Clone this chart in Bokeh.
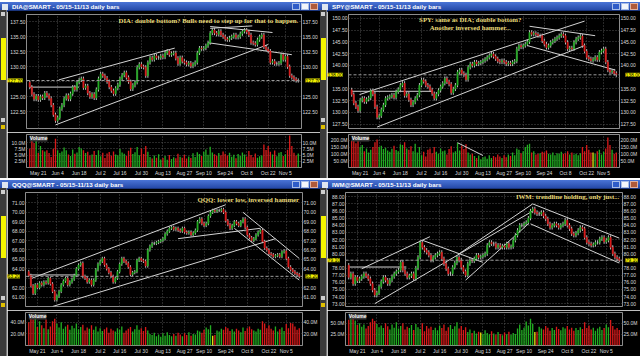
import numpy as np
from bokeh.plotting import figure
from bokeh.models import (FixedTicker, Span, Label, LinearAxis, Range1d, Div,
                          Grid, ColumnDataSource)
from bokeh.layouts import row, column
from bokeh.embed import file_html
from bokeh.resources import INLINE

# ---------------- data ----------------
DATE_TICKS = [4, 13, 23, 33, 42, 52, 62, 72, 81, 91, 101, 111, 119]
DATE_LABELS = ["May 21", "Jun 4", "Jun 18", "Jul 2", "Jul 16", "Jul 30", "Aug 13",
               "Aug 27", "Sep 10", "Sep 24", "Oct 8", "Oct 22", "Nov 5"]

DIA_OPEN0 = 127.4
DIA_WICK = 0.35
DIA_CLOSE = [126.6, 125.4, 124.6, 125.1, 124.5, 125.0, 124.8, 125.6, 125.2, 124.7,
             123.6, 122.0, 121.0, 121.5, 123.0, 123.6, 124.7, 125.2, 124.6, 125.5,
             126.6, 126.2, 127.4, 127.8, 128.0, 126.5, 126.8, 125.6, 125.0, 125.4,
             124.8, 126.2, 128.0, 128.8, 128.5, 128.1, 127.5, 126.6, 126.0, 125.5,
             126.4, 127.0, 128.0, 128.6, 129.0, 128.2, 127.5, 126.3, 126.9, 127.4,
             129.9, 130.4, 130.0, 129.9, 128.5, 130.7, 131.5, 131.2, 131.8, 131.5,
             131.5, 131.8, 131.6, 132.3, 132.6, 132.0, 132.2, 132.3, 131.4, 130.5,
             131.5, 130.9, 130.7, 130.4, 130.6, 130.1, 130.4, 130.7, 132.3, 133.1,
             133.0, 133.1, 133.5, 134.0, 135.6, 136.1, 135.6, 135.4, 135.9, 135.3,
             135.0, 134.6, 134.5, 134.8, 135.0, 135.3, 134.9, 135.0, 135.5, 135.9,
             136.1, 135.8, 135.3, 134.0, 133.9, 133.7, 134.5, 135.0, 135.3, 133.3,
             132.9, 132.6, 130.7, 130.9, 130.5, 130.5, 130.6, 132.0, 131.2, 131.7,
             130.0, 128.5, 128.2, 127.9, 127.7, 127.7]
DIA_VOL = [7.5, 10.9, 9.8, 11.5, 5.8, 8.6, 6.9, 6.4, 6.9, 5.8,
           4.2, 7.5, 11.5, 6.9, 5.8, 6.4, 8.0, 6.9, 5.2, 4.6,
           7.2, 5.5, 6.0, 8.2, 7.6, 6.9, 5.8, 6.3, 4.8, 5.2,
           6.6, 5.0, 6.9, 4.5, 5.9, 3.8, 5.6, 6.2, 4.7, 6.4,
           5.2, 4.9, 7.4, 6.0, 5.5, 4.6, 6.7, 7.9, 5.4, 6.1,
           8.2, 4.9, 7.6, 5.4, 8.6, 6.3, 4.2, 3.6, 4.8, 3.9,
           5.3, 3.2, 3.8, 4.6, 3.1, 5.0, 3.4, 4.1, 3.7, 5.5,
           4.3, 3.9, 5.1, 3.6, 4.4, 3.8, 5.7, 4.2, 6.1, 5.4,
           4.6, 6.3, 7.2, 5.1, 8.3, 6.0, 5.3, 4.7, 5.8, 4.9,
           6.4, 5.5, 4.8, 5.9, 4.3, 5.1, 3.7, 5.4, 4.6, 6.0,
           5.2, 4.4, 6.6, 5.0, 4.1, 5.6, 3.9, 4.5, 4.8, 9.2,
           7.0, 8.6, 6.3, 5.2, 6.8, 4.5, 5.9, 6.2, 4.6, 5.3,
           7.1, 12.8, 8.6, 5.9, 4.8, 5.6]
DIA_TICKS = [122.5, 125.0, 127.5, 130.0, 132.5, 135.0, 137.5]
DIA_VTICKS = [2.5, 5.0, 7.5, 10.0]
DIA_LINES = [(0, 126.6, 23, 126.6), (13.5, 127.8, 67.5, 133.1), (12, 120.3, 111, 133.7),
             (84, 136.4, 103.6, 136.8), (84, 136.7, 113, 135.7), (83, 134.0, 122, 132.0)]
DIA_HILITE = []
DIA_NOTE = ["DIA: double bottom? Bulls need to step up for that to happen."]

SPY_OPEN0 = 134.8
SPY_WICK = 0.45
SPY_CLOSE = [133.8, 132.0, 131.2, 130.4, 132.6, 133.0, 132.3, 132.8, 133.1, 134.6,
             133.9, 131.2, 129.0, 129.3, 130.6, 131.6, 133.0, 133.2, 133.4, 133.7,
             133.2, 134.4, 134.9, 135.8, 136.2, 133.6, 133.9, 132.7, 131.6, 132.2,
             133.0, 133.7, 135.8, 136.9, 136.6, 135.8, 135.5, 134.8, 134.0, 133.0,
             133.9, 134.7, 135.5, 136.2, 137.2, 136.5, 136.0, 134.2, 135.0, 135.8,
             138.6, 139.0, 138.3, 138.0, 137.0, 139.6, 140.3, 140.0, 140.7, 140.3,
             140.5, 140.7, 141.0, 141.3, 141.7, 142.1, 142.4, 141.9, 141.4, 140.9,
             140.7, 141.0, 140.7, 140.3, 140.5, 140.3, 140.7, 140.9, 143.5, 144.2,
             143.9, 144.2, 144.5, 145.0, 147.0, 146.6, 146.8, 146.6, 146.3, 146.3,
             145.2, 144.5, 143.8, 144.2, 144.9, 145.2, 145.6, 145.9, 146.3, 146.6,
             146.3, 144.9, 143.5, 143.7, 143.5, 144.9, 145.6, 145.9, 146.2, 144.2,
             143.0, 141.7, 141.4, 141.0, 141.3, 141.7, 141.2, 142.8, 143.1, 143.5,
             140.7, 139.0, 138.6, 138.8, 138.3, 138.0]
SPY_VOL = [195, 210, 178, 205, 150, 165, 120, 140, 110, 130,
           150, 185, 205, 150, 160, 135, 145, 125, 115, 138,
           160, 128, 120, 170, 165, 185, 140, 130, 155, 120,
           175, 110, 150, 90, 115, 80, 130, 140, 105, 150,
           115, 100, 140, 120, 125, 95, 135, 155, 110, 120,
           182, 125, 160, 135, 170, 110, 95, 100, 85, 70,
           88, 60, 75, 80, 65, 90, 70, 85, 75, 95,
           80, 70, 90, 75, 95, 85, 110, 90, 140, 130,
           105, 120, 150, 167, 175, 110, 120, 95, 100, 105,
           115, 110, 125, 100, 95, 110, 90, 105, 100, 115,
           100, 105, 120, 95, 110, 95, 100, 90, 105, 150,
           120, 165, 130, 110, 110, 100, 120, 130, 95, 115,
           140, 220, 165, 130, 100, 110]
SPY_TICKS = [127.5, 130.0, 132.5, 135.0, 137.5, 140.0, 142.5, 145.0, 147.5, 150.0]
SPY_VTICKS = [50, 100, 150, 200]
SPY_LINES = [(0, 134.5, 38, 134.5), (3.7, 133.8, 110, 149.4), (12, 126.9, 110, 144.2),
             (84, 148.3, 115, 146.3), (83, 144.2, 124.6, 139.0)]
SPY_VLINES = [(50, 182, 62, 88)]
SPY_HILITE = [114]
SPY_NOTE = ["SPY: same as DIA; double bottom?", "Another inversed hammer..."]

QQQ_OPEN0 = 63.7
QQQ_WICK = 0.18
QQQ_CLOSE = [63.3, 62.2, 61.4, 62.3, 62.0, 62.5, 62.3, 62.6, 62.5, 63.0,
             62.4, 61.6, 60.7, 61.1, 61.6, 62.3, 62.7, 63.0, 62.3, 62.6,
             62.9, 63.3, 64.0, 64.4, 64.6, 63.2, 63.0, 62.6, 62.8, 62.3,
             62.8, 63.9, 64.5, 64.8, 65.1, 64.4, 64.0, 63.6, 63.2, 62.6,
             63.0, 63.7, 64.5, 65.1, 64.8, 64.6, 64.2, 63.4, 63.6, 63.7,
             64.9, 65.1, 64.9, 64.8, 64.3, 66.0, 66.4, 66.7, 66.7, 66.8,
             66.9, 67.0, 67.2, 67.7, 68.0, 68.3, 68.4, 68.2, 68.3, 68.1,
             68.0, 68.3, 67.9, 67.8, 67.9, 67.6, 67.8, 68.1, 69.0, 69.3,
             68.8, 68.6, 68.8, 69.6, 70.0, 70.2, 70.1, 70.2, 70.2, 70.3,
             70.0, 69.1, 68.7, 68.3, 68.6, 69.0, 68.8, 68.6, 69.0, 69.3,
             68.4, 67.6, 67.3, 67.0, 67.2, 67.6, 67.9, 68.1, 66.9, 66.2,
             66.0, 65.6, 65.5, 65.3, 65.4, 65.5, 65.3, 65.8, 65.9, 65.1,
             64.2, 63.9, 63.7, 63.5, 63.4, 63.2]
QQQ_VOL = [40, 48, 45, 50, 32, 42, 35, 30, 45, 28,
           33, 42, 46, 38, 31, 40, 29, 33, 36, 27,
           34, 30, 38, 28, 32, 36, 26, 31, 29, 35,
           27, 33, 24, 30, 25, 28, 31, 22, 29, 26,
           24, 30, 27, 33, 22, 26, 29, 32, 24, 28,
           35, 27, 30, 25, 32, 26, 20, 18, 22, 16,
           19, 15, 21, 17, 23, 18, 16, 20, 17, 22,
           19, 16, 21, 18, 23, 17, 20, 19, 26, 24,
           22, 27, 31, 28, 35, 17, 18, 26, 24, 29,
           27, 32, 30, 25, 28, 24, 29, 26, 23, 31,
           25, 30, 33, 28, 26, 24, 29, 27, 42, 38,
           30, 35, 29, 26, 33, 24, 28, 31, 25, 37,
           30, 39, 38, 33, 27, 30]
QQQ_TICKS = [61.0, 62.0, 63.0, 64.0, 65.0, 66.0, 67.0, 68.0, 69.0, 70.0, 71.0]
QQQ_VTICKS = [20, 40]
QQQ_LINES = [(0, 63.35, 23.5, 63.35), (1.5, 63.0, 91, 70.8), (11, 60.0, 114, 67.2),
             (69, 67.2, 107, 68.3), (99, 70.0, 125, 65.1), (95, 68.3, 125, 62.8)]
QQQ_HILITE = [85]
QQQ_NOTE = ["QQQ: lower low, inversed hammer"]

IWM_OPEN0 = 78.4
IWM_WICK = 0.3
IWM_CLOSE = [76.7, 77.2, 75.8, 76.7, 76.2, 76.5, 76.8, 77.2, 76.9, 76.5,
             75.8, 74.9, 74.2, 74.5, 75.4, 76.1, 76.7, 76.3, 75.8, 76.3,
             76.8, 77.2, 77.5, 77.7, 78.8, 77.7, 77.2, 76.7, 76.9, 77.2,
             76.5, 78.0, 79.5, 81.6, 80.9, 80.5, 80.2, 79.8, 79.1, 79.5,
             79.8, 80.0, 80.2, 79.3, 78.6, 77.9, 77.2, 77.2, 78.1, 78.7,
             79.5, 79.1, 78.1, 77.5, 77.0, 78.6, 79.1, 79.0, 79.3, 79.8,
             79.5, 79.6, 79.8, 80.0, 81.2, 81.6, 81.4, 81.4, 80.9, 81.2,
             80.9, 81.1, 80.9, 81.4, 80.9, 81.0, 81.9, 82.6, 83.3, 84.0,
             84.0, 84.2, 84.4, 85.0, 86.0, 86.3, 85.8, 85.6, 85.6, 85.8,
             85.3, 84.9, 84.2, 83.7, 84.0, 84.2, 84.0, 83.7, 84.0, 84.2,
             84.7, 84.0, 83.5, 82.8, 82.6, 82.9, 83.3, 83.7, 83.5, 82.3,
             81.6, 81.4, 81.2, 81.3, 81.6, 81.6, 82.1, 82.3, 81.7, 81.9,
             82.3, 80.9, 80.0, 79.5, 79.3, 79.1]
IWM_VOL = [58, 64, 60, 56, 46, 50, 42, 47, 38, 44,
           52, 60, 55, 48, 41, 45, 39, 50, 43, 36,
           47, 40, 52, 38, 44, 50, 36, 42, 39, 46,
           35, 48, 41, 37, 50, 32, 44, 38, 42, 35,
           40, 34, 45, 39, 47, 33, 41, 46, 37, 43,
           52, 38, 44, 35, 41, 30, 36, 28, 33, 27,
           31, 29, 26, 34, 28, 25, 32, 27, 24, 30,
           26, 23, 29, 25, 31, 24, 28, 26, 38, 47,
           35, 40, 54, 45, 60, 49, 30, 31, 42, 38,
           36, 44, 40, 33, 39, 35, 42, 37, 34, 41,
           38, 44, 36, 40, 33, 39, 35, 41, 37, 52,
           39, 45, 36, 40, 33, 38, 42, 35, 39, 47,
           41, 57, 44, 36, 39, 35]
IWM_TICKS = [73.0, 74.0, 75.0, 76.0, 77.0, 78.0, 79.0, 80.0, 81.0, 82.0, 83.0,
             84.0, 85.0, 86.0, 87.0, 88.0]
IWM_VTICKS = [25, 50]
IWM_LINES = [(0, 78.14, 26.6, 78.14), (6, 77.9, 37.5, 82.4), (12, 73.0, 85, 86.0),
             (34, 81.9, 62, 78.8), (51, 80.0, 85, 87.0), (54, 76.3, 83, 84.2),
             (85, 87.0, 125, 82.2), (84, 84.2, 125, 78.7)]
IWM_HILITE = [61, 86]
IWM_NOTE = ["IWM: trendline holding, only just..."]

# ---------------- style ----------------
UP = "#22ad22"
DOWN = "#d81a1a"
FLAT = "#b4b4b4"
HILITE = "#e8e010"
LABEL_COLOR = "#dcdcdc"
NOTE_COLOR = "#e8da78"
FONT = "Liberation Sans"
FS = "5px"

PANEL_W = 320
STRIP_W = 7
MAIN_W = PANEL_W - STRIP_W
TITLE_H = 10
PRICE_H = 122
VOL_H = 46
LB, RB = 16, 16
X0, X1 = -1.5, 126.5


def style_axis(ax):
    ax.axis_line_color = None
    ax.major_tick_line_color = None
    ax.minor_tick_line_color = None
    ax.major_tick_out = 0
    ax.major_tick_in = 0
    ax.minor_tick_out = 0
    ax.minor_tick_in = 0
    ax.major_label_standoff = 1
    ax.major_label_text_font_size = FS
    ax.major_label_text_font = FONT
    ax.major_label_text_color = LABEL_COLOR


def base_fig(h, xr, yr, top, bottom):
    f = figure(width=MAIN_W, height=h, x_range=xr, y_range=yr,
               output_backend="svg", toolbar_location=None,
               x_axis_location=None, y_axis_location=None,
               min_border_left=LB, min_border_right=RB,
               min_border_top=top, min_border_bottom=bottom,
               background_fill_color="black", border_fill_color="black",
               outline_line_color="#8c8c8c")
    f.center = [c for c in f.center if not isinstance(c, Grid)]
    return f


def add_grid(f, dim, ticks):
    f.add_layout(Grid(dimension=dim, ticker=FixedTicker(ticks=ticks),
                      grid_line_color="#505050", grid_line_dash="1 2",
                      grid_line_width=1))


def make_panel(name, open0, wick, close, vol, ticks, yr, vticks, vmax, lines,
               hilite, note, note_pos, note_align, vlines=()):
    c = np.array(close, dtype=float)
    o = np.concatenate([[open0], c[:-1]])
    hi = np.maximum(o, c) + wick
    lo = np.minimum(o, c) - wick
    n = len(c)
    idx = np.arange(n)
    thr = wick * 0.12
    colors = [UP if cc - oo > thr else (DOWN if oo - cc > thr else FLAT)
              for oo, cc in zip(o, c)]
    vcolors = [UP if cc >= oo else DOWN for oo, cc in zip(o, c)]
    for h_ in hilite:
        vcolors[h_] = HILITE
    src = ColumnDataSource(dict(x=idx, o=o, c=c, hi=hi, lo=lo,
                                top=np.maximum(o, c), bot=np.minimum(o, c),
                                col=colors, vol=vol, vcol=vcolors))
    xr = Range1d(X0, X1)
    last = c[-1]

    # ---- price ----
    p = base_fig(PRICE_H, xr, Range1d(*yr), 1, 1)
    add_grid(p, 0, DATE_TICKS)
    add_grid(p, 1, ticks)
    over = {t: f"{t:.2f}" for t in ticks}
    for t in ticks:
        if abs(t - last) < (yr[1] - yr[0]) * 0.03:
            over[t] = ""
    for side in ("left", "right"):
        ax = LinearAxis(ticker=FixedTicker(ticks=ticks), major_label_overrides=over)
        style_axis(ax)
        p.add_layout(ax, side)
    p.add_layout(Span(location=last, dimension="width", line_color="#9a9a9a",
                      line_dash="3 2", line_width=1))
    for (x0, y0, x1, y1) in lines:
        p.segment(x0=[x0], y0=[y0], x1=[x1], y1=[y1], line_color="#d4d4d4",
                  line_width=1)
    p.segment(x0="x", x1="x", y0="lo", y1="hi", source=src, line_color="#bdbdbd",
              line_width=1)
    p.vbar(x="x", top="top", bottom="bot", width=0.6, source=src,
           fill_color="col", line_color="col", line_width=0.5)
    # last-price tags, hosted in the thin above/below panels so they can be
    # painted over the axis margins
    tag_kw = dict(y=last, y_units="data", x_units="canvas", text=f"{last:.2f}",
                  text_font_size=FS, text_font=FONT, text_color="black",
                  background_fill_color="#f2f200", text_align="left",
                  text_baseline="middle")
    p.add_layout(Label(x=0, **tag_kw), "above")
    p.add_layout(Label(x=MAIN_W - RB + 1, **tag_kw), "below")
    for k, line in enumerate(note):
        p.add_layout(Label(x=note_pos[0], y=note_pos[1] - k * (yr[1] - yr[0]) * 0.07,
                           text=line, text_font="Liberation Serif",
                           text_font_style="bold", text_font_size="6.8px",
                           text_color=NOTE_COLOR, text_align=note_align,
                           text_baseline="middle"))

    # ---- volume ----
    v = base_fig(VOL_H, xr, Range1d(0, vmax), 2, 0)
    add_grid(v, 0, DATE_TICKS)
    add_grid(v, 1, vticks)
    vover = {t: f"{t:.1f}M" for t in vticks}
    for side in ("left", "right"):
        ax = LinearAxis(ticker=FixedTicker(ticks=vticks), major_label_overrides=vover)
        style_axis(ax)
        v.add_layout(ax, side)
    bx = LinearAxis(ticker=FixedTicker(ticks=DATE_TICKS),
                    major_label_overrides=dict(zip(DATE_TICKS, DATE_LABELS)))
    style_axis(bx)
    bx.major_label_standoff = 2
    v.add_layout(bx, "below")
    v.vbar(x="x", top="vol", bottom=0, width=0.62, source=src,
           fill_color="vcol", line_color=None)
    for (x0, y0, x1, y1) in vlines:
        v.segment(x0=[x0], y0=[y0], x1=[x1], y1=[y1], line_color="#d4d4d4",
                  line_width=1)
    v.add_layout(Label(x=0, y=vmax * 0.97, text="Volume", text_font_size="5px",
                       text_font=FONT, text_font_style="bold", text_color="white",
                       background_fill_color="#3a3a3a", text_align="left",
                       text_baseline="top"))

    # ---- left strip (window chrome) ----
    sh = PRICE_H + VOL_H
    strip = Div(
        text=('<div style="position:relative;width:%dpx;height:%dpx;background:#3a3a3a;'
              'border-right:1px solid #777;box-sizing:border-box;">'
              '<div style="position:absolute;left:1px;top:2px;width:4px;height:4px;'
              'background:#cfcfcf;"></div>'
              '<div style="position:absolute;left:1px;top:28px;width:5px;height:42px;'
              'background:#f4f400;"></div>'
              '<div style="position:absolute;left:1px;top:%dpx;width:4px;height:4px;'
              'background:#cfcfcf;"></div>'
              '<div style="position:absolute;left:1px;top:%dpx;width:4px;height:4px;'
              'background:#e0c000;"></div></div>') % (STRIP_W, sh, PRICE_H - 14, PRICE_H - 7),
        width=STRIP_W, height=sh, margin=(0, 0, 0, 0))

    # ---- title bar ----
    html = (
        '<div style="position:relative;width:%dpx;height:%dpx;'
        'background:linear-gradient(#4a74d6,#1c3f9e);color:#ffffff;'
        "font:bold 6.2px 'Liberation Sans',sans-serif;line-height:%dpx;"
        'white-space:nowrap;overflow:hidden;">'
        '<span style="display:inline-block;width:6px;height:6px;background:#dfe6f0;'
        'margin:0 4px 0 2px;vertical-align:middle;"></span>%s'
        '<span style="position:absolute;right:2px;top:1px;height:8px;">'
        '<span style="display:inline-block;width:8px;height:7px;background:#2f5cc8;'
        'border:1px solid #a8bde8;margin-right:1px;"></span>'
        '<span style="display:inline-block;width:8px;height:7px;background:#f4f6fa;'
        'border:1px solid #a8bde8;margin-right:1px;"></span>'
        '<span style="display:inline-block;width:8px;height:7px;background:#b05a3a;'
        'border:1px solid #e0b0a0;"></span></span></div>'
    ) % (PANEL_W, TITLE_H, TITLE_H, f"{name}@SMART - 05/15-11/13 daily bars")
    title = Div(text=html, width=PANEL_W, height=TITLE_H, margin=(0, 0, 0, 0))

    return column(title, row(strip, column(p, v, spacing=0), spacing=0), spacing=0)


dia = make_panel("DIA", DIA_OPEN0, DIA_WICK, DIA_CLOSE, DIA_VOL, DIA_TICKS,
                 (119.7, 138.7), DIA_VTICKS, 13.2, DIA_LINES, DIA_HILITE,
                 DIA_NOTE, (125.0, 137.7), "right")
spy = make_panel("SPY", SPY_OPEN0, SPY_WICK, SPY_CLOSE, SPY_VOL, SPY_TICKS,
                 (126.6, 150.8), SPY_VTICKS, 242, SPY_LINES, SPY_HILITE,
                 SPY_NOTE, (56, 149.8), "center", vlines=SPY_VLINES)
qqq = make_panel("QQQ", QQQ_OPEN0, QQQ_WICK, QQQ_CLOSE, QQQ_VOL, QQQ_TICKS,
                 (60.0, 72.1), QQQ_VTICKS, 57, QQQ_LINES, QQQ_HILITE,
                 QQQ_NOTE, (125.0, 71.35), "right")
iwm = make_panel("IWM", IWM_OPEN0, IWM_WICK, IWM_CLOSE, IWM_VOL, IWM_TICKS,
                 (72.6, 88.6), IWM_VTICKS, 74, IWM_LINES, IWM_HILITE,
                 IWM_NOTE, (125.0, 88.05), "right")

page = column(row(dia, spy, spacing=0), row(qqq, iwm, spacing=0), spacing=0)

with open("out.html", "w") as fh:
    fh.write(file_html(page, INLINE))
